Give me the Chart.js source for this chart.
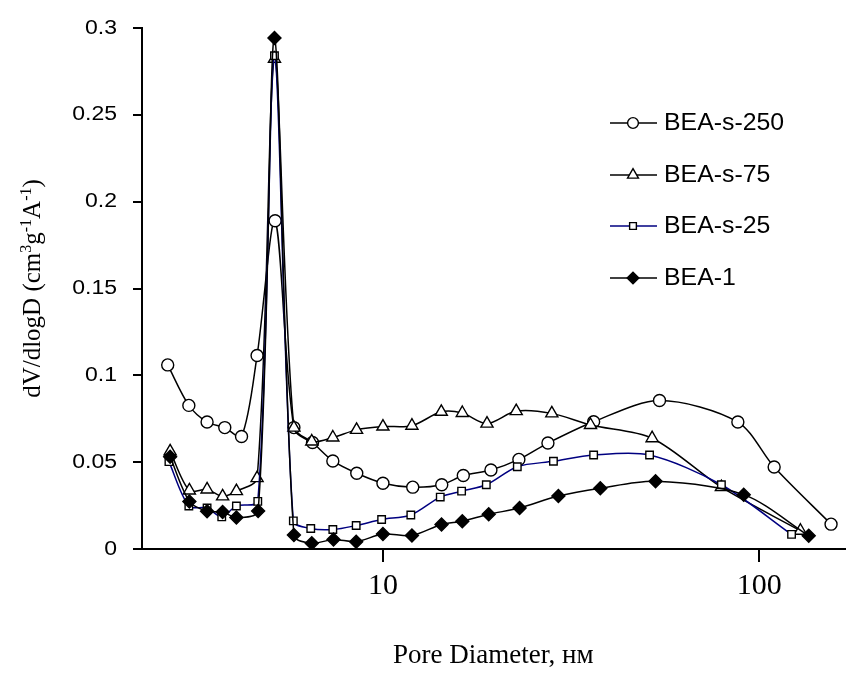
<!DOCTYPE html>
<html>
<head>
<meta charset="utf-8">
<script src="https://cdn.jsdelivr.net/npm/chart.js@4.4.1/dist/chart.umd.min.js"></script>
<style>
html,body{margin:0;padding:0;background:#fff;}
#wrap{width:853px;height:688px;position:relative;}
</style>
</head>
<body>
<div id="wrap"><canvas id="c" width="853" height="688"></canvas></div>
<script>
// ---- data ----
const seriesNames = ['BEA-s-250', 'BEA-s-75', 'BEA-s-25', 'BEA-1'];

const xS250 = [2.68, 3.05, 3.41, 3.80, 4.21, 4.63, 5.17, 5.80, 6.50, 7.36, 8.52, 10.0, 12.0, 14.33, 16.35, 19.36, 22.97, 27.44, 36.29, 54.3, 87.7, 109.5, 155.1];
const yS250 = [0.106, 0.0827, 0.0731, 0.0699, 0.0648, 0.1114, 0.189, 0.0699, 0.0613, 0.0507, 0.0436, 0.0379, 0.0356, 0.037, 0.0423, 0.0455, 0.0516, 0.061, 0.0733, 0.0855, 0.0731, 0.0472, 0.0143];

const xS75 = [2.72, 3.06, 3.41, 3.75, 4.08, 4.63, 5.15, 5.80, 6.47, 7.36, 8.51, 10.0, 11.94, 14.29, 16.25, 18.9, 22.6, 28.1, 35.6, 51.9, 79.3, 128.6];
const yS75 = [0.0562, 0.0337, 0.0343, 0.0303, 0.0333, 0.0408, 0.2823, 0.0699, 0.0619, 0.0642, 0.0686, 0.0705, 0.071, 0.079, 0.0783, 0.0722, 0.0794, 0.0781, 0.0714, 0.0638, 0.0356, 0.0105];

const xS25 = [2.70, 3.05, 3.41, 3.73, 4.08, 4.65, 5.15, 5.78, 6.43, 7.36, 8.49, 9.92, 11.86, 14.2, 16.18, 18.82, 22.75, 28.38, 36.29, 51.1, 79.3, 121.8];
const yS25 = [0.0503, 0.0248, 0.0236, 0.0185, 0.0248, 0.0274, 0.284, 0.0162, 0.0118, 0.0112, 0.0135, 0.017, 0.0196, 0.0299, 0.0333, 0.037, 0.0474, 0.0505, 0.0541, 0.0541, 0.037, 0.0084];

const xB1 = [2.72, 3.06, 3.41, 3.75, 4.08, 4.66, 5.15, 5.80, 6.47, 7.39, 8.49, 10.0, 11.94, 14.31, 16.25, 19.1, 23.07, 29.25, 37.8, 53.0, 90.9, 135.3];
const yB1 = [0.0531, 0.0274, 0.0217, 0.0213, 0.0181, 0.0219, 0.2943, 0.008, 0.0033, 0.0055, 0.0042, 0.0086, 0.0078, 0.0141, 0.016, 0.02, 0.0236, 0.0305, 0.035, 0.039, 0.0313, 0.0076];

const xTickValues = [10, 100];
const yTickValues = [0, 0.05, 0.1, 0.15, 0.2, 0.25, 0.3];
const xTitle = 'Pore Diameter, нм';
const yTitleParts = [['dV/dlogD (cm', false], ['3', true], ['g', false], ['-1', true], ['A', false], ['-1', true], [')', false]];

// ---- styles ----
const seriesStyles = [
  {color: '#000000', pointStyle: 'circle',   radius: 6,   fill: '#ffffff', order: 4},
  {color: '#000000', pointStyle: 'triangle', radius: 7,   fill: '#ffffff', order: 3},
  {color: '#000080', pointStyle: 'rect',     radius: 5.3, fill: '#ffffff', order: 2},
  {color: '#000000', pointStyle: 'rectRot',  radius: 6.5, fill: '#000000', order: 1}
];
const seriesX = [xS250, xS75, xS25, xB1];
const seriesY = [yS250, yS75, yS25, yB1];

const canvas = document.getElementById('c');
const ctx = canvas.getContext('2d');
// sans-serif text in the reference is drawn a little wider than the font's natural width
const nativeFillText = CanvasRenderingContext2D.prototype.fillText;
ctx.fillText = function (text, x, y, maxWidth) {
  const sx = /Serif/.test(this.font) ? 1 : (this.__sx || 1.15);
  if (sx === 1) return nativeFillText.call(this, text, x, y, maxWidth);
  this.save();
  this.translate(x, y);
  this.scale(sx, 1);
  nativeFillText.call(this, text, 0, 0);
  this.restore();
};

const datasets = seriesNames.map((name, i) => {
  const st = seriesStyles[i];
  return {
    label: name,
    data: seriesX[i].map((x, j) => ({x: x, y: seriesY[i][j]})),
    borderColor: st.color,
    borderWidth: 1.5,
    tension: 0.3,
    pointStyle: st.pointStyle,
    pointRadius: st.radius,
    pointHoverRadius: st.radius,
    pointBackgroundColor: st.fill,
    pointBorderColor: '#000000',
    pointBorderWidth: 1.4,
    order: st.order,
    fill: false
  };
});

const legendPlugin = {
  id: 'insideLegend',
  afterDraw(chart) {
    const c = chart.ctx;
    const rows = [123, 175, 226, 278];
    c.save();
    seriesNames.forEach((name, i) => {
      const st = seriesStyles[i];
      const y = rows[i];
      c.strokeStyle = st.color;
      c.lineWidth = 1.5;
      c.beginPath();
      c.moveTo(610, y);
      c.lineTo(657, y);
      c.stroke();
      c.fillStyle = st.fill;
      c.strokeStyle = '#000000';
      c.lineWidth = 1.4;
      Chart.helpers.drawPoint(c, {pointStyle: st.pointStyle, radius: st.radius * 0.9, rotation: 0, borderWidth: 1.4}, 633, y);
      c.fillStyle = '#000000';
      c.font = '23px "Liberation Sans", Arial, sans-serif';
      c.textAlign = 'left';
      c.textBaseline = 'middle';
      c.__sx = 1.08;
      c.fillText(name, 664, y + 1);
      c.__sx = undefined;
    });
    c.restore();
  }
};

const yTitlePlugin = {
  id: 'yTitle',
  afterDraw(chart) {
    const c = chart.ctx;
    const area = chart.chartArea;
    const mainFont = '25px "Liberation Serif", "Times New Roman", serif';
    const supFont = '16px "Liberation Serif", "Times New Roman", serif';
    c.save();
    let total = 0;
    yTitleParts.forEach(([t, sup]) => { c.font = sup ? supFont : mainFont; total += c.measureText(t).width; });
    c.translate(40, (area.top + area.bottom) / 2);
    c.rotate(-Math.PI / 2);
    c.fillStyle = '#000000';
    c.textAlign = 'left';
    c.textBaseline = 'alphabetic';
    let x = -total / 2;
    yTitleParts.forEach(([t, sup]) => {
      c.font = sup ? supFont : mainFont;
      c.fillText(t, x, sup ? -9 : 0);
      x += c.measureText(t).width;
    });
    c.restore();
  }
};

new Chart(ctx, {
  type: 'line',
  data: {datasets: datasets},
  options: {
    responsive: false,
    animation: false,
    devicePixelRatio: 1,
    layout: {padding: {top: 24, right: 0, bottom: 0, left: 0}},
    plugins: {legend: {display: false}, tooltip: {enabled: false}},
    scales: {
      x: {
        type: 'logarithmic',
        position: 'bottom',
        min: 2.29,
        max: 168.5,
        border: {display: true, color: '#000000', width: 2},
        grid: {display: true, drawOnChartArea: false, drawTicks: true, tickLength: 13, color: '#000000', lineWidth: 2},
        ticks: {
          color: '#000000',
          font: {family: '"Liberation Serif", "Times New Roman", serif', size: 30},
          padding: 6,
          autoSkip: false,
          maxRotation: 0,
          callback: v => String(v)
        },
        afterBuildTicks: s => { s.ticks = xTickValues.map(v => ({value: v})); },
        afterFit: s => { s.height = 139; },
        title: {
          display: true,
          text: xTitle,
          color: '#000000',
          font: {family: '"Liberation Serif", "Times New Roman", serif', size: 27, lineHeight: 1},
          padding: {top: 0, bottom: 19}
        }
      },
      y: {
        type: 'linear',
        min: 0,
        max: 0.3,
        border: {display: true, color: '#000000', width: 2},
        grid: {display: true, drawOnChartArea: false, drawTicks: true, tickLength: 9, color: '#000000', lineWidth: 2},
        ticks: {
          color: '#000000',
          font: {family: '"Liberation Sans", Arial, sans-serif', size: 20},
          padding: 16,
          callback: v => String(+Number(v).toFixed(2))
        },
        afterBuildTicks: s => { s.ticks = yTickValues.map(v => ({value: v})); },
        afterFit: s => { s.width = 142; }
      }
    }
  },
  plugins: [legendPlugin, yTitlePlugin]
});
</script>
</body>
</html>
